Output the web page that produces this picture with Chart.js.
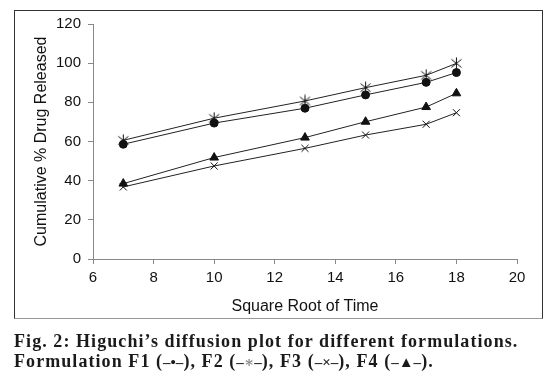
<!DOCTYPE html>
<html>
<head>
<meta charset="utf-8">
<script src="https://cdn.jsdelivr.net/npm/chart.js@4.4.1/dist/chart.umd.min.js"></script>
<style>
  html, body { margin: 0; padding: 0; background: #fff; }
  #wrap { position: relative; width: 555px; height: 375px; overflow: hidden; }
  #frame {
    position: absolute; left: 14px; top: 10px; width: 529px; height: 309px;
    border: 1px solid #333; border-bottom-color: #999; box-sizing: border-box;
    pointer-events: none;
  }
  #plot { position: absolute; left: 0; top: 0; }
  .caption {
    position: absolute; left: 14px; margin: 0; line-height: 20px;
    font-family: "Liberation Serif", "DejaVu Serif", serif;
    font-weight: bold; font-size: 18px; letter-spacing: 1.07px; color: #1a1a1a; white-space: nowrap;
  }
  .sym { font-size: 15px; letter-spacing: 0; }
</style>
</head>
<body>
<div id="wrap">
  <canvas id="plot" width="555" height="320"></canvas>
  <div id="frame"></div>
  <p class="caption" style="top:331px">Fig. 2: Higuchi’s diffusion plot for different formulations.</p>
  <p class="caption" style="top:351px">Formulation F1 (<span class="sym">–•–</span>), F2 (<span class="sym">–<span style="color:#888">∗</span>–</span>), F3 (<span class="sym">–×–</span>), F4 (<span class="sym">–▲–</span>).</p>
</div>
<script>
/* data */
const sqrtTime = [7, 10, 13, 15, 17, 18];
const f1 = [58.6, 69.4, 77, 83.8, 90.2, 95.2];
const f2 = [60.6, 71.9, 80.7, 87.5, 93.8, 99.9];
const f3 = [36.8, 47.5, 56.5, 63.3, 68.8, 74.7];
const f4 = [38.5, 51.8, 62, 70.1, 77.6, 84.6];

const toPoints = (ys) => ys.map((y, i) => ({ x: sqrtTime[i], y: y }));

// asterisk marker: an x with a vertical bar through it
const starMark = document.createElement("canvas");
starMark.width = 13;
starMark.height = 13;
(function () {
  const c = starMark.getContext("2d");
  c.strokeStyle = "#111";
  c.lineWidth = 1;
  c.beginPath();
  c.moveTo(1.5, 2.5); c.lineTo(11.5, 10.5);
  c.moveTo(11.5, 2.5); c.lineTo(1.5, 10.5);
  c.moveTo(6.5, 0.5); c.lineTo(6.5, 12.5);
  c.stroke();
})();

const series = (label, ys, marker, r) => ({
  label: label,
  data: toPoints(ys),
  borderColor: "#222",
  borderWidth: 1,
  backgroundColor: "#111",
  pointStyle: marker,
  pointRadius: r,
  pointBorderColor: "#111",
  pointBorderWidth: 1,
  pointBackgroundColor: "#111",
  fill: false,
  tension: 0,
});

const axisFont = { family: "'Liberation Sans', Arial, sans-serif", size: 15 };
const titleFont = { family: "'Liberation Sans', Arial, sans-serif", size: 16 };

new Chart(document.getElementById("plot"), {
  type: "line",
  data: {
    datasets: [
      series("F1", f1, "circle", 4),
      series("F2", f2, starMark, 6),
      series("F3", f3, "crossRot", 5),
      series("F4", f4, "triangle", 5),
    ],
  },
  options: {
    responsive: false,
    animation: false,
    layout: { padding: { left: 32, right: 38, top: 24, bottom: 0 } },
    plugins: { legend: { display: false }, tooltip: { enabled: false } },
    scales: {
      x: {
        type: "linear",
        min: 6,
        max: 20,
        ticks: { stepSize: 2, color: "#111", font: axisFont, padding: 5 },
        grid: { drawOnChartArea: false, drawTicks: true, tickLength: 5, color: "#888" },
        border: { color: "#888", width: 1 },
        title: { display: true, text: "Square Root of Time", color: "#111", font: titleFont, padding: { top: 0 } },
        afterFit: (scale) => { scale.height = 61; },
      },
      y: {
        min: 0,
        max: 120,
        ticks: { stepSize: 20, color: "#111", font: axisFont, padding: 7 },
        grid: { drawOnChartArea: false, drawTicks: true, tickLength: 5, color: "#888" },
        border: { color: "#888", width: 1 },
        title: { display: true, text: "Cumulative % Drug Released", color: "#111", font: titleFont, padding: 0 },
        afterFit: (scale) => { scale.width = 61; },
      },
    },
  },
});
</script>
</body>
</html>
